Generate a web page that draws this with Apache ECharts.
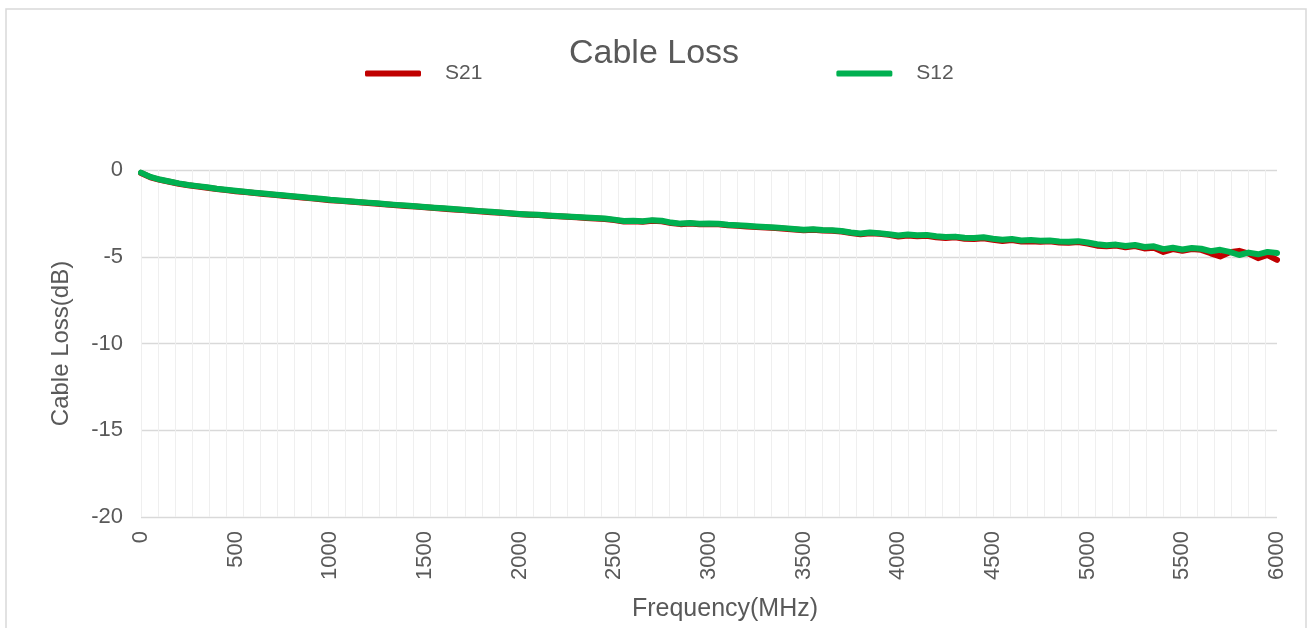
<!DOCTYPE html>
<html>
<head>
<meta charset="utf-8">
<title>Cable Loss</title>
<script src="https://cdn.jsdelivr.net/npm/echarts@6/dist/echarts.min.js"></script>
<style>
  html, body { margin: 0; padding: 0; background: #fff; }
  #chart-container { width: 1308px; height: 628px; }
</style>
</head>
<body>
<div id="chart-container"></div>
<script>
// Frequenz-Stützpunkte (MHz)
const freqMHz = [
    0, 50, 100, 150, 200, 250, 300, 350, 400, 450,
    500, 550, 600, 650, 700, 750, 800, 850, 900, 950,
    1000, 1050, 1100, 1150, 1200, 1250, 1300, 1350, 1400, 1450,
    1500, 1550, 1600, 1650, 1700, 1750, 1800, 1850, 1900, 1950,
    2000, 2050, 2100, 2150, 2200, 2250, 2300, 2350, 2400, 2450,
    2500, 2550, 2600, 2650, 2700, 2750, 2800, 2850, 2900, 2950,
    3000, 3050, 3100, 3150, 3200, 3250, 3300, 3350, 3400, 3450,
    3500, 3550, 3600, 3650, 3700, 3750, 3800, 3850, 3900, 3950,
    4000, 4050, 4100, 4150, 4200, 4250, 4300, 4350, 4400, 4450,
    4500, 4550, 4600, 4650, 4700, 4750, 4800, 4850, 4900, 4950,
    5000, 5050, 5100, 5150, 5200, 5250, 5300, 5350, 5400, 5450,
    5500, 5550, 5600, 5650, 5700, 5750, 5800, 5850, 5900, 5950,
    6000
];

// S21 (rot) in dB
const s21 = [
    -0.17, -0.42, -0.57, -0.68, -0.79, -0.88, -0.95, -1.02, -1.10, -1.16,
    -1.22, -1.27, -1.33, -1.38, -1.43, -1.48, -1.53, -1.58, -1.63, -1.68,
    -1.74, -1.78, -1.82, -1.86, -1.90, -1.94, -1.99, -2.03, -2.07, -2.11,
    -2.15, -2.19, -2.23, -2.27, -2.31, -2.35, -2.39, -2.43, -2.47, -2.51,
    -2.55, -2.58, -2.60, -2.64, -2.67, -2.70, -2.73, -2.76, -2.79, -2.82,
    -2.89, -2.97, -2.95, -2.98, -2.93, -2.96, -3.06, -3.12, -3.09, -3.13,
    -3.11, -3.13, -3.19, -3.22, -3.25, -3.28, -3.31, -3.34, -3.38, -3.43,
    -3.47, -3.45, -3.49, -3.50, -3.55, -3.63, -3.70, -3.64, -3.68, -3.74,
    -3.84, -3.78, -3.82, -3.79, -3.88, -3.92, -3.88, -3.96, -3.98, -3.93,
    -4.02, -4.09, -4.03, -4.12, -4.10, -4.14, -4.11, -4.18, -4.20, -4.15,
    -4.24, -4.36, -4.40, -4.35, -4.45, -4.38, -4.52, -4.48, -4.72, -4.56,
    -4.66, -4.55, -4.60, -4.80, -4.98, -4.74, -4.66, -4.82, -5.08, -4.90,
    -5.18
];

// S12 (grün) in dB
const s12 = [
    -0.15, -0.40, -0.55, -0.66, -0.77, -0.86, -0.93, -1.00, -1.08, -1.14,
    -1.20, -1.25, -1.31, -1.36, -1.41, -1.46, -1.51, -1.56, -1.61, -1.66,
    -1.72, -1.76, -1.80, -1.84, -1.88, -1.92, -1.97, -2.01, -2.05, -2.09,
    -2.13, -2.17, -2.21, -2.25, -2.29, -2.33, -2.37, -2.41, -2.45, -2.49,
    -2.53, -2.56, -2.58, -2.62, -2.65, -2.68, -2.71, -2.74, -2.77, -2.80,
    -2.86, -2.94, -2.92, -2.95, -2.89, -2.92, -3.03, -3.09, -3.06, -3.10,
    -3.08, -3.10, -3.16, -3.19, -3.22, -3.25, -3.28, -3.31, -3.35, -3.40,
    -3.44, -3.42, -3.46, -3.47, -3.52, -3.60, -3.66, -3.60, -3.64, -3.70,
    -3.78, -3.72, -3.76, -3.74, -3.82, -3.86, -3.84, -3.90, -3.92, -3.88,
    -3.96, -4.02, -3.98, -4.06, -4.04, -4.08, -4.06, -4.12, -4.14, -4.10,
    -4.18, -4.28, -4.34, -4.30, -4.38, -4.32, -4.44, -4.40, -4.56, -4.48,
    -4.58, -4.50, -4.54, -4.68, -4.60, -4.72, -4.90, -4.76, -4.86, -4.72,
    -4.78
];

const seriesNames = ['S21', 'S12'];
const seriesColors = ['#C00000', '#00B050'];

const textColor = '#595959';
const fontFamily = '"Liberation Sans", Arial, sans-serif';

const chartDom = document.getElementById('chart-container');
const myChart = echarts.init(chartDom, null, { renderer: 'canvas' });

function pairs(values) {
    return freqMHz.map((f, i) => [f, values[i]]);
}

const option = {
    backgroundColor: '#ffffff',
    animation: false,
    textStyle: { fontFamily: fontFamily },
    // Rahmen um den Diagrammbereich
    graphic: [{
        type: 'rect',
        shape: { x: 6, y: 9, width: 1300, height: 640 },
        style: { fill: 'none', stroke: '#D9D9D9', lineWidth: 1.5 },
        silent: true
    }],
    title: {
        text: 'Cable Loss',
        left: 'center',
        top: 32,
        textStyle: { color: textColor, fontSize: 34, fontWeight: 'normal', fontFamily: fontFamily }
    },
    legend: {
        data: seriesNames,
        left: 360,
        top: 58,
        icon: 'roundRect',
        itemWidth: 56,
        itemHeight: 6,
        itemGap: 354,
        textStyle: { color: textColor, fontSize: 21, fontFamily: fontFamily, padding: [0, 0, 0, 19] }
    },
    grid: {
        left: 141,
        right: 31,
        top: 170,
        bottom: 111,
        containLabel: false
    },
    xAxis: [{
        type: 'value',
        min: 0,
        max: 6000,
        interval: 500,
        name: 'Frequency(MHz)',
        nameLocation: 'middle',
        nameGap: 80,
        nameTextStyle: { color: textColor, fontSize: 25, fontFamily: fontFamily, padding: [0, 0, 0, 32] },
        axisLine: { show: false },
        axisTick: { show: false },
        splitLine: { show: false },
        axisLabel: {
            rotate: 90, margin: 14, color: textColor, fontSize: 22, fontFamily: fontFamily,
            formatter: v => String(v)
        }
    }, {
        // nur für die feinen senkrechten Gitterlinien
        type: 'value',
        position: 'bottom',
        min: 0,
        max: 6000,
        interval: 90,
        axisLine: { show: false },
        axisTick: { show: false },
        axisLabel: { show: false },
        splitLine: { show: true, showMaxLine: false, lineStyle: { color: '#EFEFEF', width: 1 } }
    }],
    yAxis: {
        type: 'value',
        min: -20,
        max: 0,
        interval: 5,
        name: 'Cable Loss(dB)',
        nameLocation: 'middle',
        nameGap: 68,
        nameTextStyle: { color: textColor, fontSize: 24, fontFamily: fontFamily },
        axisLine: { show: false },
        axisTick: { show: false },
        axisLabel: { margin: 18, color: textColor, fontSize: 22, fontFamily: fontFamily },
        splitLine: { show: true, lineStyle: { color: '#D9D9D9', width: 1.3 } }
    },
    series: [{
        name: seriesNames[0],
        type: 'line',
        xAxisIndex: 0,
        data: pairs(s21),
        showSymbol: false,
        symbol: 'none',
        itemStyle: { color: seriesColors[0] },
        lineStyle: { color: seriesColors[0], width: 6, cap: 'round', join: 'round' }
    }, {
        name: seriesNames[1],
        type: 'line',
        xAxisIndex: 0,
        data: pairs(s12),
        showSymbol: false,
        symbol: 'none',
        itemStyle: { color: seriesColors[1] },
        lineStyle: { color: seriesColors[1], width: 6, cap: 'round', join: 'round' }
    }]
};

myChart.setOption(option);

window.addEventListener('resize', () => {
    myChart.resize();
});
</script>
</body>
</html>
